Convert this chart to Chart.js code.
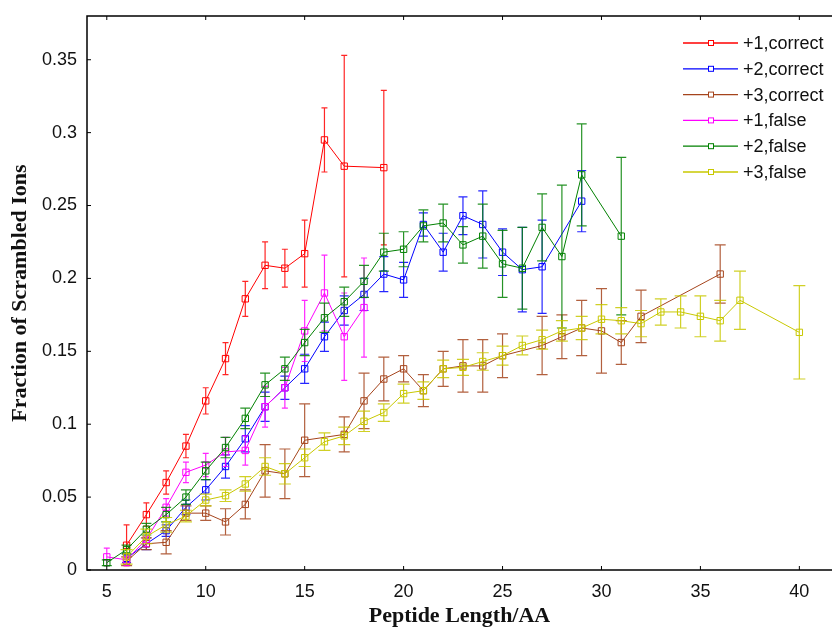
<!DOCTYPE html>
<html>
<head>
<meta charset="utf-8">
<title>Fraction of Scrambled Ions</title>
<script src="https://cdn.jsdelivr.net/npm/chart.js@4.4.1/dist/chart.umd.min.js"></script>
<style>
  html, body { margin: 0; padding: 0; background: #fff; }
  #wrap { width: 832px; height: 630px; }
</style>
</head>
<body>
<div id="wrap"><canvas id="myChart" width="832" height="630"></canvas></div>
<script>
"use strict";

/* peptide lengths, one slot per length 5..40 (null = no point) */
var lengths = [5, 6, 7, 8, 9, 10, 11, 12, 13, 14, 15, 16, 17, 18, 19, 20, 21, 22,
               23, 24, 25, 26, 27, 28, 29, 30, 31, 32, 33, 34, 35, 36, 37, 38, 39, 40];
var xTicks = [5, 10, 15, 20, 25, 30, 35, 40];
var yTicks = [0, 0.05, 0.1, 0.15, 0.2, 0.25, 0.3, 0.35];
var yTickLabels = ["0", "0.05", "0.1", "0.15", "0.2", "0.25", "0.3", "0.35"];

var seriesNames = ["+1,correct", "+2,correct", "+3,correct", "+1,false", "+2,false", "+3,false"];

var plus1Correct = [null, 0.017, 0.038, 0.060, 0.085, 0.116, 0.145, 0.186, 0.209, 0.207, 0.217, 0.295, 0.277, null, 0.276];
var plus1CorrectErr = [null, 0.014, 0.008, 0.008, 0.008, 0.009, 0.011, 0.012, 0.016, 0.013, 0.023, 0.022, 0.076, null, 0.053];

var plus2Correct = [null, 0.008, 0.018, 0.027, 0.043, 0.055, 0.071, 0.090, 0.112, 0.125, 0.138, 0.160, 0.178, 0.189, 0.203,
                    0.199, 0.237, 0.218, 0.243, 0.237, 0.218, 0.206, 0.208, null, 0.253];
var plus2CorrectErr = [null, 0.003, 0.004, 0.004, 0.005, 0.007, 0.008, 0.009, 0.010, 0.008, 0.010, 0.010, 0.010, 0.011, 0.012,
                       0.012, 0.008, 0.013, 0.013, 0.023, 0.016, 0.029, 0.032, null, 0.021];

var plus3Correct = [null, 0.006, 0.018, 0.019, 0.039, 0.039, 0.033, 0.045, 0.068, 0.066, 0.089, null, 0.093, 0.116, 0.131,
                    0.138, 0.123, 0.138, 0.140, 0.140, 0.147, null, 0.154, 0.160, 0.166, 0.164, 0.156, 0.174, null, null, null, 0.203];
var plus3CorrectErr = [null, 0.003, 0.004, 0.008, 0.005, 0.005, 0.009, 0.010, 0.018, 0.017, 0.025, null, 0.012, 0.019, 0.015,
                       0.009, 0.011, 0.012, 0.018, 0.018, 0.015, null, 0.020, 0.015, 0.019, 0.029, 0.015, 0.018, null, null, null, 0.020];

var plus1False = [0.009, 0.007, 0.021, 0.043, 0.067, 0.072, 0.081, 0.082, 0.112, 0.125, 0.164, 0.190, 0.160, 0.180];
var plus1FalseErr = [0.006, 0.004, 0.005, 0.006, 0.007, 0.008, 0.010, 0.010, 0.014, 0.014, 0.021, 0.026, 0.030, 0.034];

var plus2False = [0.005, 0.014, 0.028, 0.038, 0.050, 0.068, 0.084, 0.104, 0.127, 0.138, 0.156, 0.173, 0.184, 0.198, 0.218,
                  0.220, 0.236, 0.238, 0.223, 0.229, 0.210, 0.207, 0.235, 0.215, 0.271, null, 0.229];
var plus2FalseErr = [0.002, 0.003, 0.004, 0.005, 0.005, 0.006, 0.007, 0.007, 0.008, 0.008, 0.009, 0.010, 0.010, 0.011, 0.013,
                     0.012, 0.011, 0.013, 0.0125, 0.022, 0.023, 0.028, 0.023, 0.049, 0.035, null, 0.054];

var plus3False = [null, 0.009, 0.023, 0.031, 0.037, 0.048, 0.051, 0.059, 0.071, 0.066, 0.077, 0.088, 0.092, 0.102, 0.108,
                  0.121, 0.123, 0.138, 0.139, 0.143, 0.147, 0.154, 0.158, 0.164, 0.166, 0.172, 0.171, 0.169, 0.177, 0.177,
                  0.174, 0.171, 0.185, null, null, 0.163];
var plus3FalseErr = [null, 0.005, 0.005, 0.005, 0.004, 0.004, 0.004, 0.005, 0.006, 0.007, 0.006, 0.006, 0.006, 0.007, 0.006,
                     0.0065, 0.006, 0.006, 0.0055, 0.006, 0.0065, 0.0065, 0.0065, 0.007, 0.008, 0.010, 0.009, 0.009, 0.009, 0.011,
                     0.014, 0.014, 0.020, null, null, 0.032];

var seriesValues = [plus1Correct, plus2Correct, plus3Correct, plus1False, plus2False, plus3False];
var seriesErrors = [plus1CorrectErr, plus2CorrectErr, plus3CorrectErr, plus1FalseErr, plus2FalseErr, plus3FalseErr];

/* styling, kept apart from the data */
var colors = ["#ff0000", "#0000ff", "#a5441c", "#ff00ff", "#008000", "#c8c800"];
var capWidths = [6, 9, 11, 6, 10, 12];

/* build {x,y} points, skipping missing lengths */
function buildPoints(values) {
    var pts = [];
    for (var i = 0; i < lengths.length; i++) {
        var v = values[i];
        if (v !== null && v !== undefined) {
            pts.push({ x: lengths[i], y: v });
        }
    }
    return pts;
}

var datasets = [];
for (var s = 0; s < seriesNames.length; s++) {
    datasets.push({
        label: seriesNames[s],
        data: buildPoints(seriesValues[s]),
        borderColor: colors[s],
        backgroundColor: "rgba(0,0,0,0)",
        borderWidth: 1,
        pointStyle: "rect",
        pointRadius: 4.5,
        pointBorderWidth: 1,
        pointBackgroundColor: "rgba(0,0,0,0)",
        pointBorderColor: colors[s],
        tension: 0,
        order: seriesNames.length - s,
        errIndex: s
    });
}

/* error bars drawn right after each series */
var errorBars = {
    id: "errorBars",
    afterDatasetDraw: function (chart, args) {
        var ds = chart.data.datasets[args.index];
        var errs = seriesErrors[ds.errIndex];
        var vals = seriesValues[ds.errIndex];
        var xs = chart.scales.x, ys = chart.scales.y;
        var ctx = chart.ctx;
        var half = capWidths[ds.errIndex] / 2;
        var area = chart.chartArea;
        ctx.save();
        ctx.beginPath();
        ctx.rect(area.left, area.top, area.right - area.left, area.bottom - area.top);
        ctx.clip();
        ctx.strokeStyle = ds.borderColor;
        ctx.globalAlpha = 0.85;
        ctx.lineWidth = 1.2;
        for (var i = 0; i < lengths.length; i++) {
            var v = vals[i], e = errs[i];
            if (v === null || v === undefined || e === null || e === undefined) continue;
            var px = xs.getPixelForValue(lengths[i]);
            var top = ys.getPixelForValue(v + e);
            var bot = ys.getPixelForValue(Math.max(0, v - e));
            ctx.beginPath();
            ctx.moveTo(px, top); ctx.lineTo(px, bot);
            ctx.moveTo(px - half, top); ctx.lineTo(px + half, top);
            ctx.moveTo(px - half, bot); ctx.lineTo(px + half, bot);
            ctx.stroke();
        }
        ctx.restore();
    }
};

/* frame and inward tick marks */
var frame = {
    id: "frame",
    afterDraw: function (chart) {
        var ctx = chart.ctx, a = chart.chartArea;
        var xs = chart.scales.x, ys = chart.scales.y;
        ctx.save();
        ctx.strokeStyle = "#000";
        ctx.lineWidth = 1.5;
        ctx.beginPath();
        ctx.moveTo(a.right + 2, a.top); ctx.lineTo(a.left, a.top);
        ctx.lineTo(a.left, a.bottom); ctx.lineTo(a.right + 2, a.bottom);
        ctx.stroke();
        ctx.lineWidth = 1;
        ctx.beginPath();
        xTicks.forEach(function (t) {
            var px = xs.getPixelForValue(t);
            ctx.moveTo(px, a.bottom); ctx.lineTo(px, a.bottom - 4);
            ctx.moveTo(px, a.top); ctx.lineTo(px, a.top + 4);
        });
        yTicks.forEach(function (t) {
            var py = ys.getPixelForValue(t);
            ctx.moveTo(a.left, py); ctx.lineTo(a.left + 4, py);
        });
        ctx.stroke();
        ctx.restore();
    }
};

/* legend in the upper right, line + square marker + label */
var insideLegend = {
    id: "insideLegend",
    afterDraw: function (chart) {
        var ctx = chart.ctx, a = chart.chartArea;
        ctx.save();
        ctx.font = "18px 'Liberation Sans', Arial, sans-serif";
        ctx.textBaseline = "middle";
        ctx.textAlign = "left";
        chart.data.datasets.forEach(function (ds, i) {
            var y = a.top + 27 + i * 25.8;
            var x0 = a.right - 149, x1 = a.right - 94, xm = a.right - 121;
            ctx.strokeStyle = ds.borderColor;
            ctx.lineWidth = 1.3;
            ctx.beginPath();
            ctx.moveTo(x0, y); ctx.lineTo(x1, y);
            ctx.stroke();
            ctx.lineWidth = 1;
            ctx.fillStyle = "#fff";
            ctx.fillRect(xm - 2.5, y - 2.5, 5, 5);
            ctx.strokeRect(xm - 2.5, y - 2.5, 5, 5);
            ctx.fillStyle = "#111";
            ctx.fillText(ds.label, a.right - 89, y + 1);
        });
        ctx.restore();
    }
};

var chart = new Chart(document.getElementById("myChart"), {
    type: "line",
    data: { datasets: datasets },
    plugins: [errorBars, frame, insideLegend],
    options: {
        responsive: false,
        devicePixelRatio: 1,
        animation: false,
        layout: { autoPadding: false, padding: { top: 16, right: 0, bottom: 0, left: 0 } },
        plugins: {
            legend: { display: false },
            tooltip: { enabled: false }
        },
        scales: {
            x: {
                type: "linear",
                min: 4,
                max: 41.65,
                afterFit: function (scale) {
                    scale.height = 60;
                    scale.paddingLeft = 0;
                    scale.paddingRight = 0;
                },
                afterBuildTicks: function (scale) {
                    scale.ticks = xTicks.map(function (v) { return { value: v }; });
                },
                grid: { display: false, drawTicks: false },
                border: { display: false },
                ticks: {
                    padding: 11,
                    color: "#111",
                    font: { family: "'Liberation Sans', Arial, sans-serif", size: 18 },
                    maxRotation: 0,
                    callback: function (v) { return String(v); }
                },
                title: {
                    display: true,
                    text: "Peptide Length/AA",
                    color: "#111",
                    padding: { top: 0, bottom: 0 },
                    font: { family: "'Liberation Serif', 'Times New Roman', serif", size: 22, weight: "bold" }
                }
            },
            y: {
                min: 0,
                max: 0.38,
                afterFit: function (scale) {
                    scale.width = 87;
                    scale.paddingTop = 0;
                    scale.paddingBottom = 0;
                },
                afterBuildTicks: function (scale) {
                    scale.ticks = yTicks.map(function (v) { return { value: v }; });
                },
                grid: { display: false, drawTicks: false },
                border: { display: false },
                ticks: {
                    padding: 10,
                    color: "#111",
                    font: { family: "'Liberation Sans', Arial, sans-serif", size: 18 },
                    callback: function (v) {
                        var k = yTicks.indexOf(v);
                        return k >= 0 ? yTickLabels[k] : "";
                    }
                },
                title: {
                    display: true,
                    text: "Fraction of Scrambled Ions",
                    color: "#111",
                    padding: { top: 7, bottom: 0 },
                    font: { family: "'Liberation Serif', 'Times New Roman', serif", size: 22, weight: "bold" }
                }
            }
        }
    }
});
</script>
</body>
</html>
